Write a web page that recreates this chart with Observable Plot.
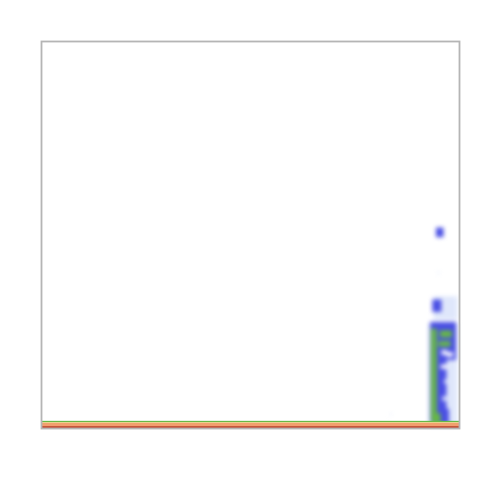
<!DOCTYPE html>
<html>
<head>
<meta charset="utf-8">
<script src="https://cdn.jsdelivr.net/npm/d3@7"></script>
<script src="https://cdn.jsdelivr.net/npm/@observablehq/plot@0.6"></script>
<style>
  html, body { margin: 0; padding: 0; background: #fff; }
  #chart { width: 480px; height: 480px; }
</style>
</head>
<body>
<div id="chart"></div>
<script>
// Density levels (low -> high)
const levels = ["void", "halo", "low", "mid", "high", "higher", "peak"];
const levelColors = ["#ffffff", "#dfe7fb", "#4a4fe4", "#66b845", "#e8d28c", "#f1a06e", "#c2452b"];

// Regions of the density surface (data units 0-100)
const regionX1 = [ 0,   0,   0,   0,    92.6, 93.9, 93.1, 93.1, 93.3, 93.6, 94.5, 94.9, 83.5, 93.3, 95.4, 95.1, 95.8, 97.0, 95.6, 96.4, 93.4, 96.0];
const regionX2 = [100, 100, 100, 100,   99.6, 99.6, 97.0, 99.3, 97.6, 95.8, 96.3, 95.3, 84.0, 94.7, 98.3, 98.0, 97.2, 98.6, 97.2, 98.0, 95.6, 97.0];
const regionY1 = [ 0,   0.5, 1.3, 1.55, 0.5,  28.0, 1.6, 17.6, 1.0,  30.0, 49.3, 39.8, 3.4, 2.1, 23.4, 21.0, 18.9, 18.4, 15.3, 11.5, 1.3, 7.0];
const regionY2 = [ 0.5, 1.3, 1.55, 1.85, 27.0, 34.0, 17.6, 27.4, 5.0,  33.2, 51.8, 40.4, 3.8, 25.7, 25.2, 22.5, 20.1, 19.6, 16.4, 12.5, 3.8, 8.2];
const regionLevel = ["peak", "higher", "high", "mid", "halo", "halo", "low", "low", "low", "low", "low", "halo", "halo", "mid", "mid", "mid", "void", "void", "void", "halo", "mid", "halo"];

const regions = regionX1.map((x1, i) => ({
  x1, x2: regionX2[i], y1: regionY1[i], y2: regionY2[i], level: regionLevel[i]
}));
const strip = regions.filter((d, i) => i < 4);
const cluster = regions.filter((d, i) => i >= 4);

const plot = Plot.plot({
  width: 480,
  height: 480,
  marginLeft: 41,
  marginRight: 21,
  marginTop: 41,
  marginBottom: 52,
  x: { domain: [0, 100], axis: null },
  y: { domain: [0, 100], axis: null },
  color: { type: "ordinal", domain: levels, range: levelColors },
  marks: [
    Plot.rect(cluster, { x1: "x1", x2: "x2", y1: "y1", y2: "y2", fill: "level", imageFilter: "blur(2px)" }),
    Plot.rect(strip, { x1: "x1", x2: "x2", y1: "y1", y2: "y2", fill: "level" }),
    Plot.frame({ stroke: "#b5b5b5", strokeWidth: 1.8 })
  ]
});
document.getElementById("chart").appendChild(plot);
</script>
</body>
</html>
